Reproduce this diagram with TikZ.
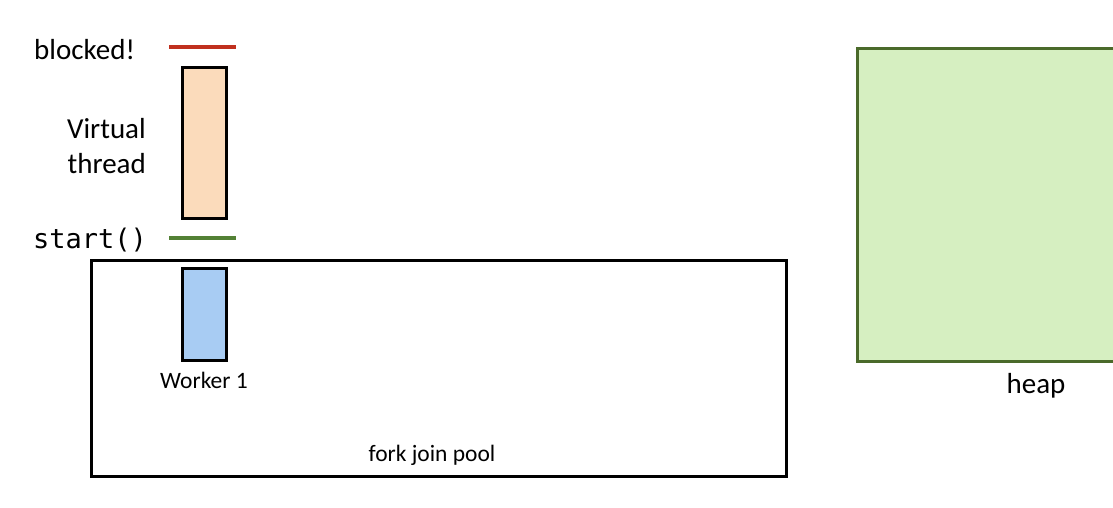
\documentclass[tikz,border=0pt]{standalone}
\usepackage{fontspec}
\setmainfont{Carlito}
\setmonofont{DejaVu Sans Mono}
\usetikzlibrary{positioning}
\definecolor{vtorange}{HTML}{FBDBBB}
\definecolor{wkblue}{HTML}{A8CCF3}
\definecolor{heapgreen}{HTML}{D6EFC1}
\definecolor{heapedge}{HTML}{4A6A2A}
\definecolor{blockred}{HTML}{C0301E}
\definecolor{startgreen}{HTML}{538135}

\begin{document}
\begin{tikzpicture}[x=1pt,y=-1pt,
  box/.style={draw=black,line width=3pt},
  mark line/.style={line width=4pt},
  big/.style={font=\fontsize{29}{34}\selectfont},
  small/.style={font=\fontsize{23.5}{28}\selectfont}]
\useasboundingbox (0,0) rectangle (1113,507);
\clip (0,0) rectangle (1113,507);
% heap
\fill[heapgreen] (857,48) rectangle (1213,361);
\draw[heapedge,line width=3pt] (1213,48) -- (857,48) -- (857,361) -- (1213,361);
\node[big,anchor=base] (heap) at (1036,393) {heap};
% pool
\draw[box] (91,260) rectangle (786,476);
\node[small,anchor=base] (pool) at (432,461) {fork join pool};
\draw[box,fill=wkblue] (182,268) rectangle (226,360);
\node[small,anchor=base] (worker) at (204,388) {Worker 1};
% virtual thread
\draw[box,fill=vtorange] (182,67) rectangle (226,218);
\node[big,anchor=base east,inner sep=0pt] (vt) at (146,138) {Virtual};
\node[big,anchor=base east,inner sep=0pt] (vt2) at (146,173) {thread};
\draw[blockred,mark line] (169,47) -- (236,47);
\node[big,anchor=base west,inner sep=0pt] (blocked) at (34,59) {blocked!};
\draw[startgreen,mark line] (169,238) -- (236,238);
\node[anchor=base west,inner sep=0pt,font=\fontsize{27}{30}\selectfont\ttfamily] (start) at (33,248) {start()};
\end{tikzpicture}
\end{document}
